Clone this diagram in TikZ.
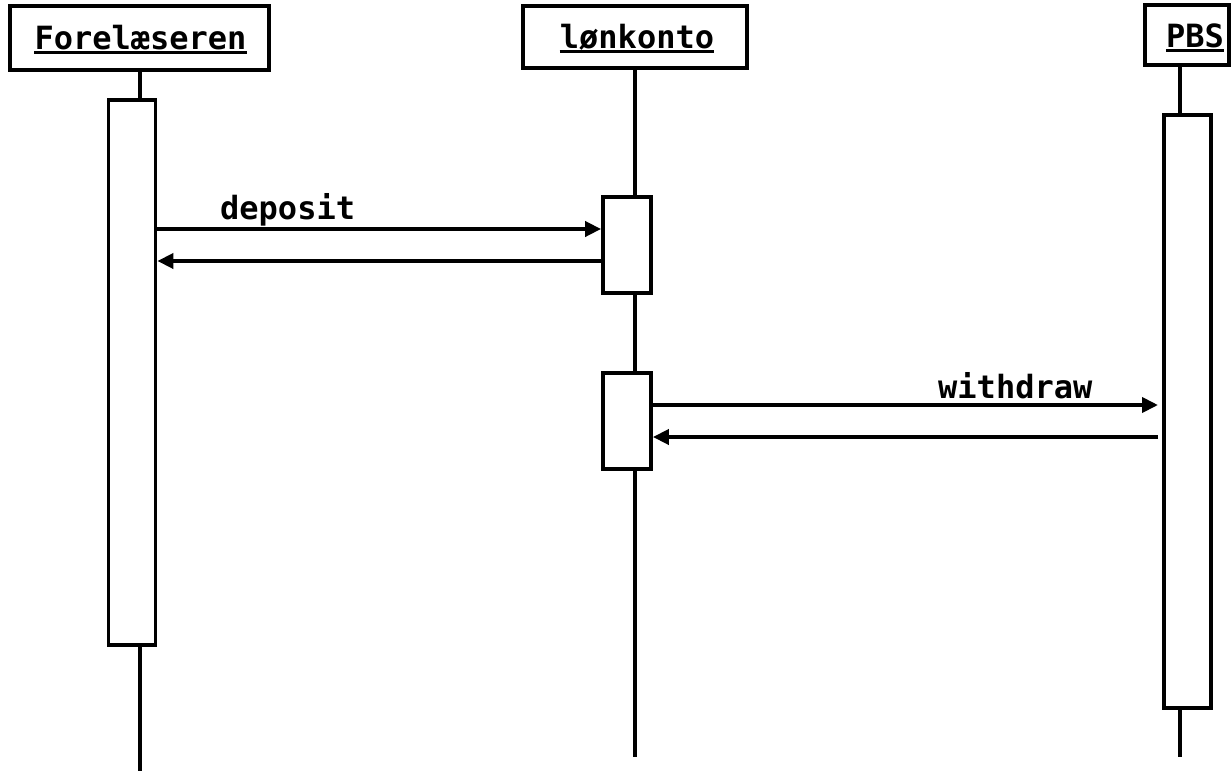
\documentclass[tikz,border=0pt]{standalone}
\usepackage{fontspec}
\setmonofont{DejaVu Sans Mono}
\usetikzlibrary{arrows.meta}
\begin{document}
\begin{tikzpicture}[x=1pt,y=-1pt,
  every node/.style={font=\ttfamily\bfseries\fontsize{32}{38}\selectfont},
  header/.style={draw, line width=3.8pt, fill=white, inner sep=0pt},
  actbox/.style={draw, line width=3.8pt, fill=white, inner sep=0pt},
  life/.style={line width=3.8pt},
  msg/.style={line width=3.8pt, -{Triangle[length=16pt,width=15pt]}},
  objname/.style={inner sep=0pt, anchor=base},
  uline/.style={line width=2.2pt}]
\useasboundingbox (0,0) rectangle (1231,771);

% lifeline ends
\coordinate (fend) at (140,771);
\coordinate (lend) at (635,757);
\coordinate (pend) at (1180,757);

% object headers
\node[header, minimum width=259pt, minimum height=64pt] (fh) at (139.5,38) {};
\node[header, minimum width=224pt, minimum height=62pt] (lh) at (635,37) {};
\node[header, minimum width=84pt, minimum height=60pt] (ph) at (1187,35) {};

% lifelines
\draw[life] (fh.south -| fend) -- (fend);
\draw[life] (lh.south -| lend) -- (lend);
\draw[life] (ph.south -| pend) -- (pend);

% activation bars
\node[actbox, minimum width=47pt, minimum height=545pt] (fa) at (132,372.5) {};
\node[actbox, minimum width=48pt, minimum height=96pt] (la1) at (627,245) {};
\node[actbox, minimum width=48pt, minimum height=96pt] (la2) at (627,421) {};
\node[actbox, minimum width=47pt, minimum height=593pt] (pa) at (1187.5,411.5) {};

% object names
\node[objname] (fn) at (140.5,49) {Forelæseren};
\node[objname] (ln) at (637,48) {lønkonto};
\node[objname] (pn) at (1195,47) {PBS};
\draw[uline] ([yshift=-3.5pt]fn.base west) -- ([yshift=-3.5pt]fn.base east);
\draw[uline] ([yshift=-3.5pt]ln.base west) -- ([yshift=-3.5pt]ln.base east);
\draw[uline] ([yshift=-3.5pt]pn.base west) -- ([yshift=-3.5pt]pn.base east);

% message levels
\coordinate (y1) at (0,229);
\coordinate (y2) at (0,261);
\coordinate (y3) at (0,405);
\coordinate (y4) at (0,437);
\coordinate (ptip) at (1158,0);

% messages
\draw[msg] (fa.east |- y1) -- (la1.west |- y1);
\draw[msg] (la1.west |- y2) -- (fa.east |- y2);
\draw[msg] (la2.east |- y3) -- (ptip |- y3);
\draw[msg] (ptip |- y4) -- (la2.east |- y4);

% message labels
\node[objname, anchor=base west] (dep) at (220,219) {deposit};
\node[objname, anchor=base west] (wd) at (938,398) {withdraw};
\end{tikzpicture}
\end{document}
